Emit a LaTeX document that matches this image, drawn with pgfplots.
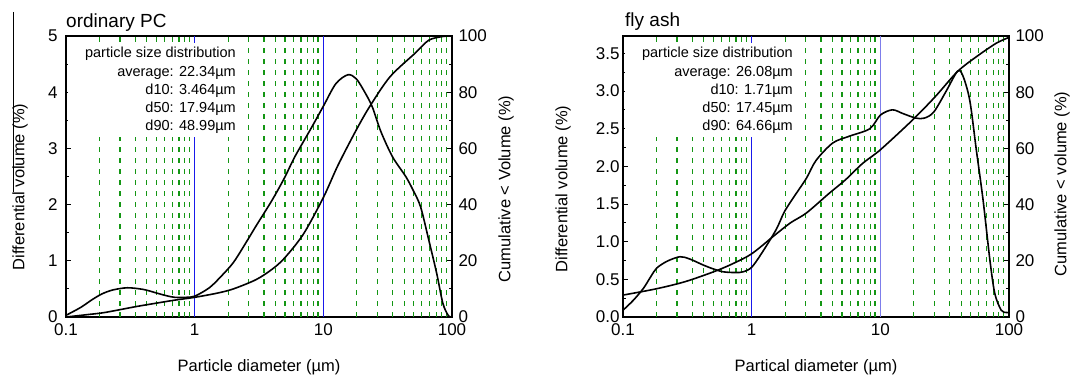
\documentclass[border=0pt]{standalone}
\usepackage{fontspec}
\setmainfont{Liberation Sans}
\usepackage{pgfplots}
\usepackage{pgfplotstable}
\pgfplotsset{compat=1.18}
\definecolor{gridgreen}{RGB}{20,150,20}
\definecolor{gridblue}{RGB}{25,25,235}
\definecolor{gridblueb}{RGB}{125,125,235}
\pgfplotsset{every axis/.append style={scale only axis, width=386pt, height=281pt,
   axis line style={line width=1.1pt}, tick align=inside, major tick length=5pt, minor tick length=3pt,
   tick style={line width=0.9pt, black}, tick label style={font=\fontsize{17}{17}\selectfont},
   anchor=south west}}
\pgfplotstableread{
x      top
0.182  1
0.263  1
0.346  1
0.425  1
0.503  1
0.583  1
0.670  1
0.755  1
0.834  1
0.908  1
1.82   1
2.63   1
3.46   1
4.25   1
5.03   1
5.83   1
6.70   1
7.55   1
8.34   1
9.08   1
18.2   1
26.3   1
34.6   1
42.5   1
50.3   1
58.3   1
67.0   1
75.5   1
83.4   1
90.8   1
}\gridlines
\begin{document}
\begin{tikzpicture}
\useasboundingbox (0,0) rectangle (1071pt,375pt);
% ---------------- left: ordinary PC ----------------
\begin{axis}[at={(66pt,58pt)}, xmode=log, xmin=0.1, xmax=100,
   /pgf/number format/assume math mode=true,
   xtick={0.1,1,10,100}, xticklabels={0.1,1,10,100}, xminorticks=false,
   xticklabel style={yshift=-3pt},
   yticklabel style={xshift=-5pt},
   xtick pos=bottom, ytick pos=left, minor y tick num=1,
   ymin=0, ymax=5, ytick={0,1,2,3,4,5}]
\addplot[ycomb, gridgreen, line width=1.2pt, dash pattern=on 4.5pt off 6.5pt, no markers]
  table[x=x, y expr=5*\thisrow{top}] {\gridlines};
\addplot[ycomb, gridblue, line width=1.2pt, no markers] coordinates {(1,5) (10,5)};
\addplot[black, line width=1.6pt, smooth] coordinates {
(0.1,0.03) (0.13,0.17) (0.16,0.31) (0.19,0.41) (0.23,0.48) (0.3,0.52) (0.4,0.49) (0.5,0.43)
(0.6,0.38) (0.7,0.35) (0.85,0.35) (1,0.37) (1.3,0.52) (1.6,0.72) (2,0.97) (2.5,1.32) (3,1.62)
(4,2.08) (5,2.48) (6,2.85) (8,3.35) (10,3.75) (12.5,4.15) (15.5,4.31) (18,4.24) (21,4.0)
(24,3.74) (28,3.3) (34.5,2.85) (43.7,2.5) (50,2.25) (57,1.96) (66,1.37) (76,0.78) (85,0.24)
(94,0.02) (100,0)};
\end{axis}
\begin{axis}[at={(66pt,58pt)}, xmode=log, xmin=0.1, xmax=100,
   /pgf/number format/assume math mode=true,
   yticklabel style={xshift=3pt},
   axis y line*=right, axis x line=none, ymin=0, ymax=100,
   ytick={0,20,40,60,80,100}, minor y tick num=1]
\addplot[black, line width=1.6pt, smooth] coordinates {
(0.1,0) (0.15,0.9) (0.2,1.6) (0.35,3.7) (0.5,4.9) (0.7,6) (1,7) (1.5,8.5) (2,10) (3,13.3)
(4,17) (5,21) (7,29.5) (10,42.5) (13,54) (18,66.5) (23,75) (33,85.5) (52,94) (66,98.5)
(84,99.8) (100,100)};
\end{axis}
% ---------------- right: fly ash ----------------
\begin{axis}[at={(623pt,58pt)}, xmode=log, xmin=0.1, xmax=100,
   /pgf/number format/assume math mode=true,
   xtick={0.1,1,10,100}, xticklabels={0.1,1,10,100}, xminorticks=false,
   xticklabel style={yshift=-3pt},
   xtick pos=bottom, ytick pos=left, minor y tick num=1,
   ymin=0, ymax=3.73, ytick={0,0.5,1,1.5,2,2.5,3,3.5},
   yticklabel={\pgfmathprintnumber[fixed,fixed zerofill,precision=1]{\tick}}]
\addplot[ycomb, gridgreen, line width=1.2pt, dash pattern=on 4.5pt off 6.5pt, no markers]
  table[x=x, y expr=3.73*\thisrow{top}] {\gridlines};
\addplot[ycomb, gridblue, line width=1.2pt, no markers] coordinates {(1,3.73)};
\addplot[ycomb, gridblueb, line width=1.2pt, no markers] coordinates {(10,3.73)};
\addplot[black, line width=1.6pt, smooth] coordinates {
(0.1,0.09) (0.12,0.22) (0.144,0.38) (0.165,0.54) (0.183,0.65) (0.22,0.74) (0.277,0.80)
(0.33,0.77) (0.42,0.69) (0.5,0.64) (0.6,0.60) (0.75,0.59) (0.86,0.60) (1,0.66) (1.2,0.85)
(1.55,1.16) (1.8,1.40) (2.22,1.64) (2.66,1.84) (3.17,2.08) (4.27,2.31) (5.75,2.40) (8.3,2.50)
(10,2.68) (12.4,2.75) (15,2.70) (18.9,2.64) (22,2.64) (26,2.72) (32.3,2.99) (39.7,3.26)
(43.6,3.21) (49.5,2.88) (55.7,2.22) (62.9,1.55) (71,0.76) (77.6,0.31) (87,0.09) (95,0.06)
(100,0.06)};
\end{axis}
\begin{axis}[at={(623pt,58pt)}, xmode=log, xmin=0.1, xmax=100,
   /pgf/number format/assume math mode=true,
   yticklabel style={xshift=3pt},
   axis y line*=right, axis x line=none, ymin=0, ymax=100,
   ytick={0,20,40,60,80,100}, minor y tick num=1]
\addplot[black, line width=1.6pt, smooth] coordinates {
(0.1,7.8) (0.18,10) (0.3,12.5) (0.5,16) (0.7,18.8) (1,22.5) (1.5,29) (2,33.5) (2.66,37)
(4,44) (5.35,48.8) (7.3,54.7) (10,59.5) (17.7,70) (26.7,78.4) (39.7,87.3) (55.7,92.6)
(79.4,97.4) (100,99.5)};
\end{axis}
% ---------------- annotation boxes ----------------
\fill[white] (67.5pt,332pt) rectangle (240pt,238pt);
\fill[white] (624.5pt,332pt) rectangle (796pt,238pt);
\begin{scope}[every node/.style={font=\fontsize{14.5}{14.5}\selectfont, inner sep=0pt, anchor=base east}]
\node at (236pt,317pt) {particle size distribution};
\node at (236pt,298pt) {average: 22.34µm};
\node at (236pt,280pt) {d10: 3.464µm};
\node at (236pt,262pt) {d50: 17.94µm};
\node at (236pt,244pt) {d90: 48.99µm};
\node at (793pt,317pt) {particle size distribution};
\node at (793pt,298pt) {average: 26.08µm};
\node at (793pt,280pt) {d10: 1.71µm};
\node at (793pt,262pt) {d50: 17.45µm};
\node at (793pt,244pt) {d90: 64.66µm};
\end{scope}
% ---------------- titles and labels ----------------
\node[anchor=base west, inner sep=0pt, font=\fontsize{19}{19}\selectfont] at (66pt,347pt) {ordinary PC};
\node[anchor=base west, inner sep=0pt, font=\fontsize{19}{19}\selectfont] at (625pt,348pt) {fly ash};
\begin{scope}[every node/.style={font=\fontsize{16.5}{16.5}\selectfont, inner sep=0pt}]
\node[anchor=base] at (259pt,4pt) {Particle diameter (µm)};
\node[anchor=base] at (816pt,4pt) {Partical diameter (µm)};
\node[rotate=90] at (20pt,188pt) {Differential volume (\%)};
\node[rotate=90] at (506pt,186pt) {Cumulative < Volume (\%)};
\node[rotate=90] at (563pt,186pt) {Differential volume (\%)};
\node[rotate=90] at (1062pt,191pt) {Cumulative < volume (\%)};
\end{scope}
\draw[black, line width=0.8pt] (13pt,363pt) -- (13pt,183pt);
\end{tikzpicture}
\end{document}
